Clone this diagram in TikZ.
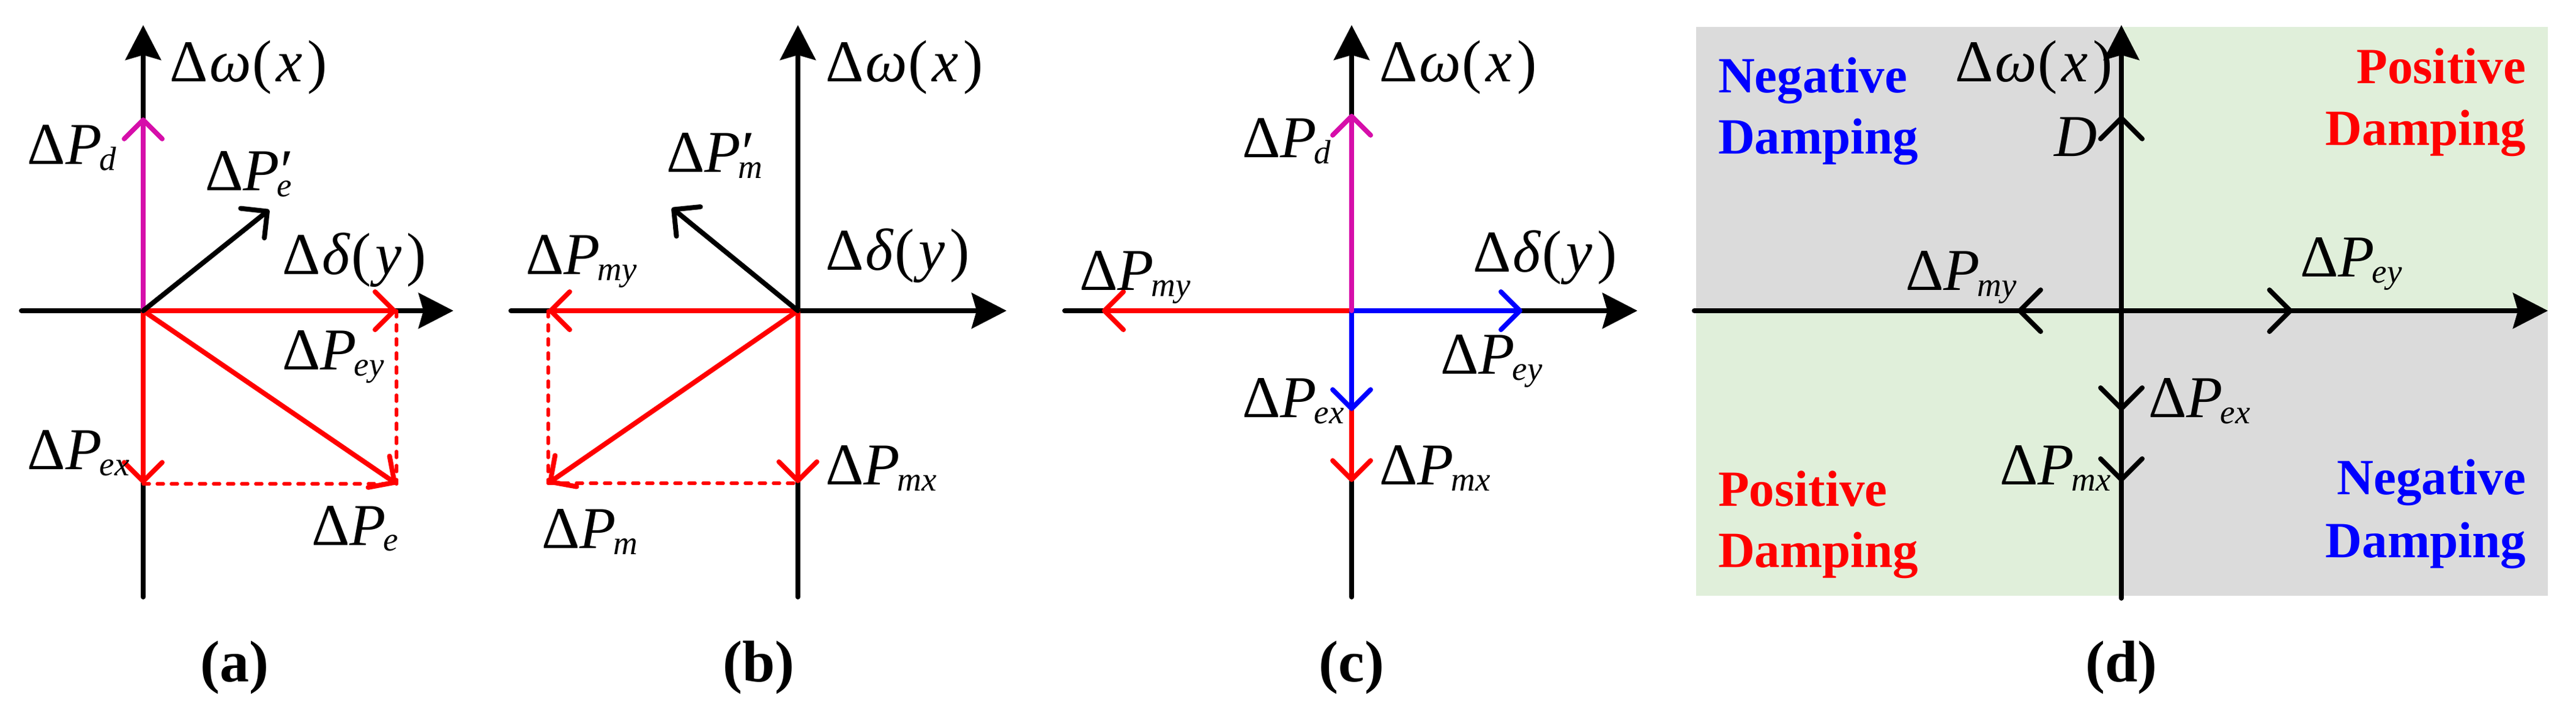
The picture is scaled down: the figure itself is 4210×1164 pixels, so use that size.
\documentclass[tikz,border=0pt]{standalone}
\usepackage{fontspec}
\setmainfont{Liberation Serif}
\usetikzlibrary{arrows.meta}
\definecolor{vred}{RGB}{255,0,0}
\definecolor{vblue}{RGB}{0,0,255}
\definecolor{vmag}{RGB}{214,14,170}
\definecolor{bggray}{RGB}{219,219,219}
\definecolor{bggreen}{RGB}{224,239,218}
\newcommand\subf{\fontsize{5.5pt}{6pt}\selectfont}
\newcommand\dP[1]{Δ\textit{P}\kern-0.4pt\raisebox{-1.0pt}{\subf\textit{#1}}}
\newcommand\dPp[1]{Δ\textit{P}\rlap{\kern0.2pt′}\kern-0.4pt\raisebox{-1.0pt}{\subf\textit{#1}}}
\newcommand\dw{Δ\kern0.3pt\textit{ω}\kern0.2pt(\kern0.6pt\textit{x}\kern0.8pt)}
\newcommand\dd{Δ\kern0.3pt\textit{δ}\kern0.2pt(\kern0.6pt\textit{y}\kern0.8pt)}
\begin{document}
\begin{tikzpicture}[x=0.1pt,y=-0.1pt,
  axis/.style={line width=0.8pt,line cap=round,-{Stealth[length=5.7pt,width=5.8pt,inset=0.8pt]}},
  vec/.style={line width=0.8pt,line cap=round,-{Straight Barb[length=3.1pt,width=6.2pt,round]}},
  marker/.style={line width=0.8pt,-{Straight Barb[length=3.4pt,width=6.8pt,round]}},
  dashln/.style={line width=0.55pt,line cap=round,dash pattern=on 1.0pt off 1.3pt,vred},
  lbl/.style={inner sep=0pt,anchor=base west,font=\fontsize{9.7pt}{11pt}\selectfont},
  panelcap/.style={inner sep=0pt,font=\fontsize{9.6pt}{11pt}\selectfont\bfseries},
  dampl/.style={inner sep=0pt,anchor=base west,font=\fontsize{8.3pt}{10pt}\selectfont\bfseries},
  dampr/.style={inner sep=0pt,anchor=base east,font=\fontsize{8.3pt}{10pt}\selectfont\bfseries}]
\useasboundingbox (0,0) rectangle (4210,1164);
% ---------------- (a)
\coordinate (Oa) at (234,508);
\coordinate (aXl) at (35,508); \coordinate (aXr) at (741,508);
\coordinate (aYb) at (234,976); \coordinate (aYt) at (234,41);
\coordinate (aPd) at (234,192);
\coordinate (aPep) at (440,343);
\coordinate (aPey) at (648,508);
\coordinate (aPex) at (234,791);
\coordinate (aPe) at (648,791);
\draw[axis] (aXl) -- (aXr);
\draw[axis] (aYb) -- (aYt);
\draw[dashln] (aPey) -- (aPe);
\draw[dashln] (aPex) -- (aPe);
\draw[vec,vred] (Oa) -- (aPey);
\draw[vec,vred] (Oa) -- (aPex);
\draw[vec,vred] (Oa) -- (aPe);
\draw[vec,vmag] (Oa) -- (aPd);
\draw[vec] (Oa) -- (aPep);
\node[lbl] (aw) at (275,134) {\dw};
\node[lbl] (aPdL) at (43,269) {\dP{d}};
\node[lbl] (aPepL) at (333,312) {\dPp{e}};
\node[lbl] (adL) at (459,449) {\dd};
\node[lbl] (aPeyL) at (459,605) {\dP{ey}};
\node[lbl] (aPexL) at (43,768) {\dP{ex}};
\node[lbl] (aPeL) at (507,891) {\dP{e}};
\node[panelcap] (capa) at (383,1091) {(a)};
% ---------------- (b)
\coordinate (Ob) at (1304,508);
\coordinate (bXl) at (835,508); \coordinate (bXr) at (1645,508);
\coordinate (bYb) at (1304,976); \coordinate (bYt) at (1304,41);
\coordinate (bPmp) at (1098,340);
\coordinate (bPmy) at (896,508);
\coordinate (bPmx) at (1304,790);
\coordinate (bPm) at (896,790);
\draw[axis] (bXl) -- (bXr);
\draw[axis] (bYb) -- (bYt);
\draw[dashln] (bPmy) -- (bPm);
\draw[dashln] (bPm) -- (bPmx);
\draw[vec,vred] (Ob) -- (bPmy);
\draw[vec,vred] (Ob) -- (bPmx);
\draw[vec,vred] (Ob) -- (bPm);
\draw[vec] (Ob) -- (bPmp);
\node[lbl] (bw) at (1347,134) {\dw};
\node[lbl] (bPmpL) at (1087,282) {\dPp{m}};
\node[lbl] (bdL) at (1347,442) {\dd};
\node[lbl] (bPmyL) at (857,449) {\dP{my}};
\node[lbl] (bPmxL) at (1347,793) {\dP{mx}};
\node[lbl] (bPmL) at (883,897) {\dP{m}};
\node[panelcap] (capb) at (1240,1091) {(b)};
% ---------------- (c)
\coordinate (Oc) at (2209,508);
\coordinate (cXl) at (1740,508); \coordinate (cXr) at (2676,508);
\coordinate (cYb) at (2209,976); \coordinate (cYt) at (2209,41);
\coordinate (cPd) at (2209,186);
\coordinate (cPey) at (2488,508);
\coordinate (cPmy) at (1801,508);
\coordinate (cPex) at (2209,672);
\coordinate (cPmx) at (2209,788);
\draw[axis] (cXl) -- (cXr);
\draw[axis] (cYb) -- (cYt);
\draw[vec,vred] (Oc) -- (cPmy);
\draw[vec,vred] (Oc) -- (cPmx);
\draw[vec,vblue] (Oc) -- (cPey);
\draw[vec,vblue] (Oc) -- (cPex);
\draw[vec,vmag] (Oc) -- (cPd);
\node[lbl] (cw) at (2252,134) {\dw};
\node[lbl] (cPdL) at (2028,258) {\dP{d}};
\node[lbl] (cdL) at (2405,445) {\dd};
\node[lbl] (cPmyL) at (1762,475) {\dP{my}};
\node[lbl] (cPeyL) at (2352,612) {\dP{ey}};
\node[lbl] (cPexL) at (2028,683) {\dP{ex}};
\node[lbl] (cPmxL) at (2252,793) {\dP{mx}};
\node[panelcap] (capc) at (2209,1091) {(c)};
% ---------------- (d)
\fill[bggray] (2772,44) rectangle (3467,508);
\fill[bggreen] (3467,44) rectangle (4164,508);
\fill[bggreen] (2772,508) rectangle (3467,974);
\fill[bggray] (3467,508) rectangle (4164,974);
\coordinate (Od) at (3467,508);
\coordinate (dXl) at (2769,508); \coordinate (dXr) at (4164,508);
\coordinate (dYb) at (3467,978); \coordinate (dYt) at (3467,41);
\draw[axis] (dXl) -- (dXr);
\draw[axis] (dYb) -- (dYt);
\coordinate (dDs) at (3467,260); \coordinate (dD) at (3467,189);
\coordinate (dPmys) at (3370,508); \coordinate (dPmy) at (3297,508);
\coordinate (dPeys) at (3670,508); \coordinate (dPey) at (3747,508);
\coordinate (dPexs) at (3467,600); \coordinate (dPex) at (3467,672);
\coordinate (dPmxs) at (3467,720); \coordinate (dPmx) at (3467,788);
\draw[marker] (dDs) -- (dD);
\draw[marker] (dPmys) -- (dPmy);
\draw[marker] (dPeys) -- (dPey);
\draw[marker] (dPexs) -- (dPex);
\draw[marker] (dPmxs) -- (dPmx);
\node[lbl] (dw) at (3193,134) {\dw};
\node[lbl] (dDL) at (3355,256) {\textit{D}};
\node[lbl] (dPmyL) at (3112,475) {\dP{my}};
\node[lbl] (dPeyL) at (3757,453) {\dP{ey}};
\node[lbl] (dPexL) at (3509,683) {\dP{ex}};
\node[lbl] (dPmxL) at (3266,793) {\dP{mx}};
\node[dampl,text=vblue] (ntl1) at (2806,152) {Negative};
\node[dampl,text=vblue] (ntl2) at (2806,252) {Damping};
\node[dampr,text=vred] (ptr1) at (4130,137) {Positive};
\node[dampr,text=vred] (ptr2) at (4130,238) {Damping};
\node[dampl,text=vred] (pbl1) at (2806,828) {Positive};
\node[dampl,text=vred] (pbl2) at (2806,928) {Damping};
\node[dampr,text=vblue] (nbr1) at (4130,809) {Negative};
\node[dampr,text=vblue] (nbr2) at (4130,912) {Damping};
\node[panelcap] (capd) at (3467,1091) {(d)};
\end{tikzpicture}
\end{document}
